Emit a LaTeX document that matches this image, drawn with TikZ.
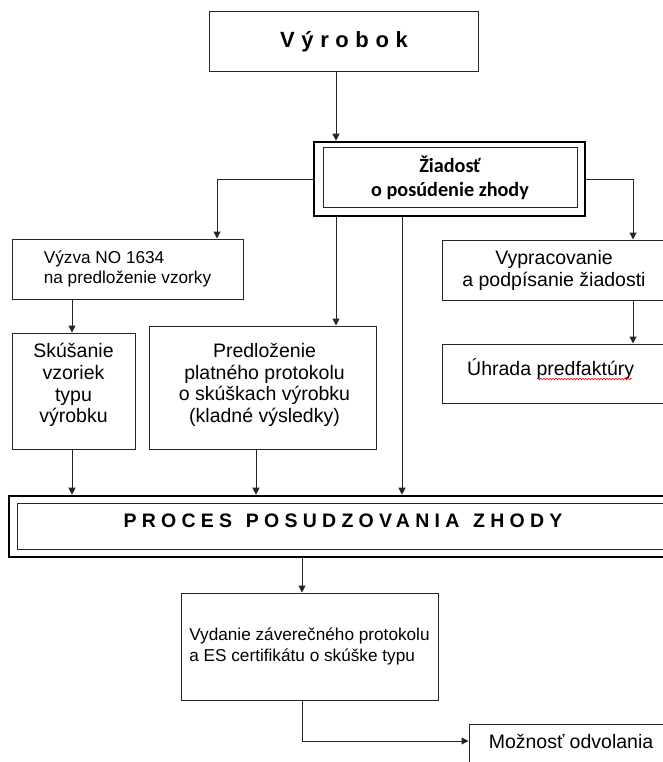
\documentclass[tikz,border=0pt]{standalone}
\usepackage{fontspec}
\setmainfont{Liberation Sans}
\newfontfamily\calfont{Carlito}
\usetikzlibrary{arrows.meta,decorations.pathmorphing}
\begin{document}
\begin{tikzpicture}[x=1pt,y=-1pt,
  box/.style={draw=black!85, line width=1pt, inner sep=0pt, align=center, font=\fontsize{19.5}{22}\selectfont},
  smallbox/.style={box, align=left, font=\fontsize{17.2}{20.5}\selectfont},
  thickbox/.style={draw=black, line width=2.6pt, inner sep=0pt},
  inbox/.style={draw=black!85, line width=1pt, inner sep=0pt},
  arr/.style={draw=black!85, line width=1pt, -{Triangle[length=7pt,width=7pt]}},
  txt/.style={inner sep=0pt, align=center, font=\fontsize{19.5}{21.7}\selectfont}
]
\useasboundingbox (0,0) rectangle (663,762);
\clip (0,0) rectangle (663,762);
\fill[white] (0,0) rectangle (663,762);

% x positions of connectors
\coordinate (xa) at (336,0);
\coordinate (xb) at (402,0);
\coordinate (xl) at (217,0);
\coordinate (xr) at (633,0);
\coordinate (xs) at (72,0);
\coordinate (xp) at (256,0);
\coordinate (xv) at (302,0);

% boxes
\node[box, minimum width=269pt, minimum height=60pt,
      font=\fontsize{22}{26}\selectfont\bfseries\addfontfeature{LetterSpace=30}] (vyr) at (344,42) {Výrobok};

\node[thickbox, minimum width=271pt, minimum height=74pt] (zia) at (449.5,179) {};
\node[inbox, minimum width=254pt, minimum height=59pt, align=center,
      font=\calfont\fontsize{20.2}{24}\selectfont\bfseries] (ziain) at (450,177.5) {Žiadosť\\o posúdenie zhody};

\node[smallbox, minimum width=231pt, minimum height=60pt] (vyz) at (127.5,269) {Výzva NO 1634\\na predloženie vzorky};
\node[box, minimum width=123pt, minimum height=116pt] (sku) at (73.5,391) {};
\node[txt] (skut) at (73.5,385) {Skúšanie\\vzoriek\\typu\\výrobku};
\node[box, minimum width=227pt, minimum height=123pt] (pre) at (262.5,387.5) {};
\node[txt] (pret) at (264.5,385) {Predloženie\\platného protokolu\\o skúškach výrobku\\(kladné výsledky)};
\node[box, minimum width=224pt, minimum height=60pt] (vyp) at (554,270) {Vypracovanie\\a podpísanie žiadosti};
\node[box, minimum width=224pt, minimum height=59pt] (uhr) at (554,373.5) {};
\node[txt, anchor=base west] (uhrt) at (467,375) {Úhrada predfaktúry};
\draw[red, line width=0.6pt, decorate, decoration={snake, amplitude=0.8pt, segment length=3pt}] (537,379) -- (632,379);

\node[thickbox, minimum width=666pt, minimum height=61pt] (pro) at (342,526.5) {};
\node[inbox, minimum width=650pt, minimum height=46pt] (proin) at (342,526) {};
\node[txt, font=\fontsize{19.5}{22}\selectfont\bfseries\addfontfeature{LetterSpace=27}] (prot) at (343,521) {PROCES\hspace{3pt} POSUDZOVANIA\hspace{3pt} ZHODY};

\node[smallbox, minimum width=257pt, minimum height=107pt] (vyd) at (309.5,646.5) {Vydanie záverečného protokolu\\a ES certifikátu o skúške typu};

\node[box, minimum width=204pt, minimum height=56pt] (moz) at (571,752) {};
\node[txt] (mozt) at (571,741) {Možnosť odvolania};

% connectors
\draw[arr] (vyr.south -| xa) -- (zia.north -| xa);
\draw[arr] (zia.west) -| (vyz.north -| xl);
\draw[arr] (zia.east) -| (vyp.north -| xr);
\draw[arr] (zia.south -| xa) -- (pre.north -| xa);
\draw[arr] (zia.south -| xb) -- (pro.north -| xb);
\draw[arr] (vyz.south -| xs) -- (sku.north -| xs);
\draw[arr] (vyp.south -| xr) -- (uhr.north -| xr);
\draw[arr] (sku.south -| xs) -- (pro.north -| xs);
\draw[arr] (pre.south -| xp) -- (pro.north -| xp);
\draw[arr] (pro.south -| xv) -- (vyd.north -| xv);
\draw[arr] (vyd.south -| xv) |- (mozt -| moz.west);
\end{tikzpicture}
\end{document}
